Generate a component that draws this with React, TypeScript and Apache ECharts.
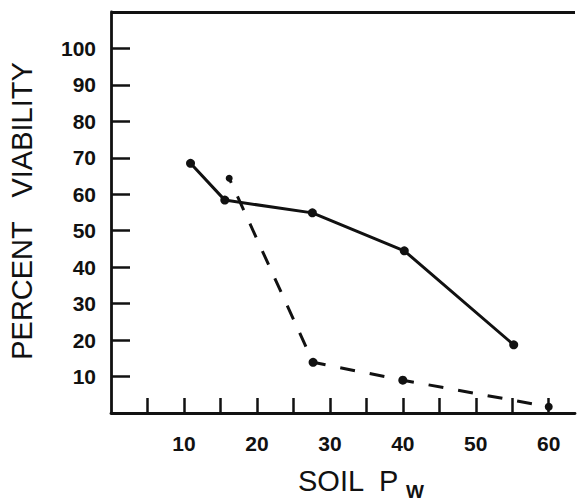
import React, { useEffect, useRef } from "react";
import * as echarts from "echarts";

const solidX = [10.9, 15.6, 27.6, 40.2, 55.2];
const solidY = [68.5, 58.4, 54.9, 44.5, 18.7];
const dashedX = [16.2, 27.7, 40.0, 60.0];
const dashedY = [64.4, 13.9, 9.0, 1.7];
const dashedSizes = [7, 9, 9, 8];
const yTickLabels = [10, 20, 30, 40, 50, 60, 70, 80, 90, 100];
const xTickLabels = [10, 20, 30, 40, 50, 60];
const xTickMarks = [5, 10, 15, 20, 25, 30, 35, 40, 45, 50, 55, 60];
const yTitle = "PERCENT   VIABILITY";
const xTitleMain = "SOIL  P";
const xTitleSub = "W";
const X_MAX = 63.6;
const Y_MAX = 110;

const INK = "#111";
const FONT = "Liberation Sans, Arial, sans-serif";

export default function App() {
  const ref = useRef<HTMLDivElement>(null);
  useEffect(() => {
    if (!ref.current) return;
    const chart = echarts.init(ref.current, undefined, { renderer: "svg" });
    const solidData = solidX.map((x, i) => [x, solidY[i]]);
    const dashedData = dashedX.map((x, i) => ({
      value: [x, dashedY[i]],
      symbolSize: dashedSizes[i],
    }));
    chart.setOption({
      animation: false,
      backgroundColor: "#fff",
      grid: { left: 111, right: 0, top: 12, bottom: 90 },
      xAxis: {
        type: "value",
        min: 0,
        max: X_MAX,
        interval: 5,
        splitLine: { show: false },
        axisLine: { show: true, onZero: false, lineStyle: { color: INK, width: 2.8 } },
        axisTick: {
          show: true,
          inside: true,
          length: 15,
          customValues: xTickMarks,
          lineStyle: { color: INK, width: 2.5 },
        },
        axisLabel: {
          margin: 20,
          color: INK,
          fontSize: 21,
          fontWeight: "bold",
          fontFamily: FONT,
          formatter: (v: number) => (xTickLabels.includes(v) ? String(v) : ""),
        },
      },
      yAxis: {
        type: "value",
        min: 0,
        max: Y_MAX,
        interval: 10,
        splitLine: { show: false },
        axisLine: { show: true, onZero: false, lineStyle: { color: INK, width: 2.8 } },
        axisTick: {
          show: true,
          inside: true,
          length: 19,
          customValues: yTickLabels,
          lineStyle: { color: INK, width: 2.5 },
        },
        axisLabel: {
          margin: 15,
          color: INK,
          fontSize: 21,
          fontWeight: "bold",
          fontFamily: FONT,
          formatter: (v: number) => (yTickLabels.includes(v) ? String(v) : ""),
        },
      },
      graphic: [
        {
          type: "text",
          x: 22,
          y: 211,
          rotation: Math.PI / 2,
          style: {
            text: yTitle,
            fontSize: 29,
            fontFamily: FONT,
            fill: INK,
            align: "center",
            verticalAlign: "middle",
          },
        },
        {
          type: "text",
          x: 298,
          y: 481,
          style: {
            text: xTitleMain,
            fontSize: 29,
            fontFamily: FONT,
            fill: INK,
            align: "left",
            verticalAlign: "middle",
          },
        },
        {
          type: "text",
          x: 406,
          y: 491,
          style: {
            text: xTitleSub,
            fontSize: 19,
            fontWeight: "bold",
            fontFamily: FONT,
            fill: INK,
            align: "left",
            verticalAlign: "middle",
          },
        },
      ],
      series: [
        {
          type: "line",
          data: solidData,
          symbol: "circle",
          symbolSize: 9,
          itemStyle: { color: INK },
          lineStyle: { color: INK, width: 3 },
          markLine: {
            silent: true,
            symbol: "none",
            label: { show: false },
            lineStyle: { color: INK, width: 2.8, type: "solid" },
            data: [{ yAxis: Y_MAX }],
          },
        },
        {
          type: "line",
          data: dashedData,
          symbol: "circle",
          itemStyle: { color: INK },
          lineStyle: { color: INK, width: 3, type: [15, 15], dashOffset: 10 },
        },
      ],
    });
    return () => chart.dispose();
  }, []);
  return <div ref={ref} style={{ width: 578, height: 503, position: "absolute", left: 0, top: 0 }} />;
}
